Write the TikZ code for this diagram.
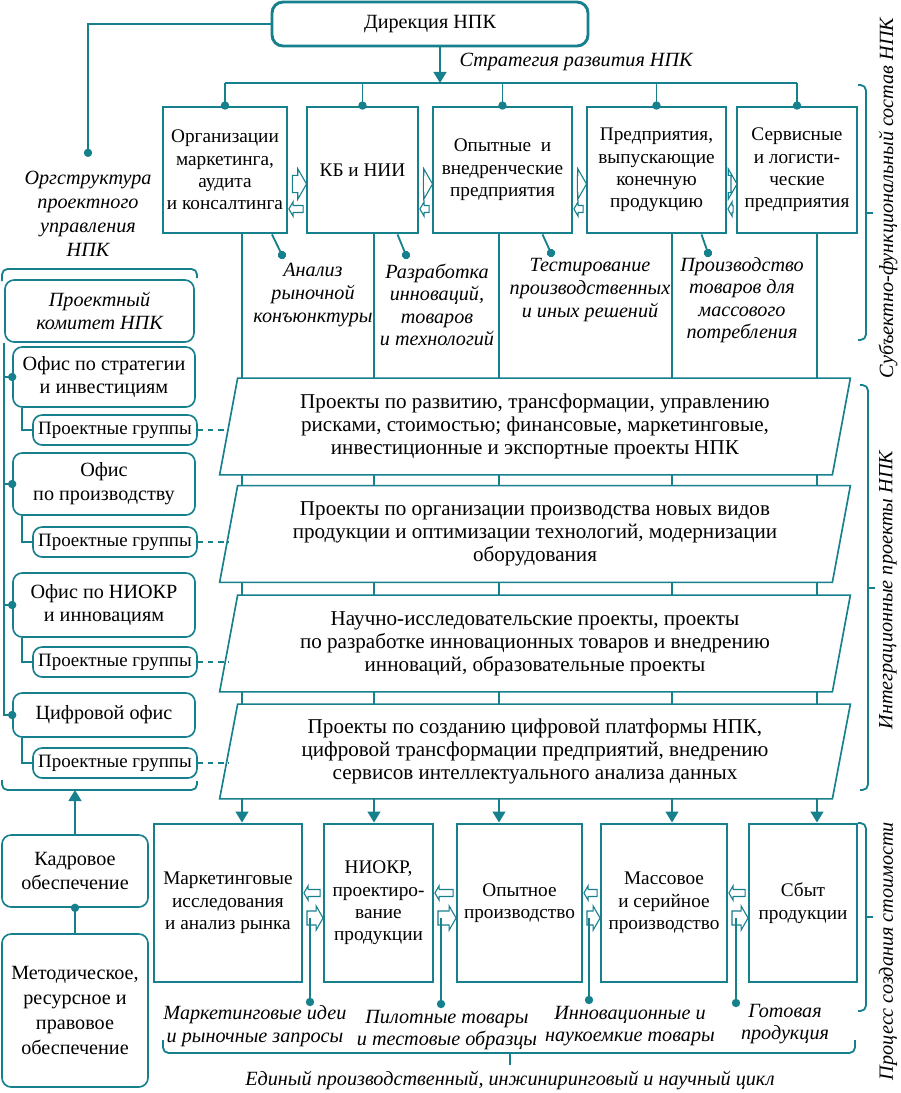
\documentclass[tikz,border=0pt]{standalone}
\usepackage{fontspec}
\setmainfont{Liberation Serif}
\usetikzlibrary{positioning, arrows.meta, backgrounds, calc, shapes.arrows}
\definecolor{npk}{RGB}{22,128,140}
\newdimen\px \px=0.545pt
\tikzset{
	conn/.style={draw=npk, line width=1pt},
	dotl/.style={conn, -{Circle[length=4.5pt]}, shorten >=-2.25pt},
	arr/.style={conn, -{Triangle[width=7pt,length=6pt]}},
	fwd/.style={single arrow, draw=npk, line width=0.6pt, fill=white, inner xsep=0pt, inner ysep=4.4pt, single arrow head extend=3.6pt, single arrow tip angle=120},
	fwdb/.style={fwd, inner ysep=3.5pt, single arrow head extend=2.7pt},
	bwd/.style={fwd, inner ysep=1.6pt, single arrow head extend=2.1pt, shape border rotate=180},
	unit/.style={draw=npk, line width=1.6pt, fill=white, align=center, inner sep=1pt, font=\fontsize{10.5}{12.2}\selectfont},
	head/.style={unit, rounded corners=6pt, font=\fontsize{11}{13}\selectfont},
	note/.style={align=center, inner sep=1pt, font=\fontsize{11}{12.3}\selectfont\itshape},
	proj/.style={align=center, inner sep=1pt, font=\fontsize{11.5}{12.6}\selectfont},
	frame/.style={draw=npk, line width=0.9pt, fill=white},
	cmt/.style={draw=npk, line width=0.9pt, fill=white, align=center, inner sep=1pt, rounded corners=5pt, font=\fontsize{11}{13}\selectfont\itshape},
	ofc/.style={cmt, font=\fontsize{11}{13}\selectfont},
	grp/.style={cmt, font=\fontsize{10.3}{12}\selectfont},
	sup/.style={cmt, font=\fontsize{11}{13.6}\selectfont},
	sz/.style 2 args={minimum width=#1\px, minimum height=#2\px},
}
\begin{document}
\begin{tikzpicture}[x=\px, y=-\px]
		\useasboundingbox (0,0) rectangle (901,1093);

		\node[head, sz={316}{44}] (dir) at (430,24) {Дирекция НПК};
		\node[note] (str) at (576,62) {Стратегия развития НПК};
		\node[note, font=\fontsize{11}{13}\selectfont\itshape] (ogs) at (88,214) {Оргструктура\\проектного\\управления\\НПК};

		\node[unit, sz={124}{126}] (mrk) at (225,170) {Организации\\маркетинга,\\аудита\\и консалтинга};
		\node[unit, sz={111}{126}] (kb) at (362.5,170) {КБ и НИИ};
		\node[unit, sz={139}{126}] (opt) at (502.5,170) {Опытные~ и\\внедренческие\\предприятия};
		\node[unit, sz={139}{126}] (prd) at (656.5,170) {Предприятия,\\выпускающие\\конечную\\продукцию};
		\node[unit, sz={120}{126}] (srv) at (797,170) {Сервисные\\и логисти-\\ческие\\предприятия};

		\node[note] (l1) at (313,295) {Анализ\\рыночной\\конъюнктуры};
		\node[note] (l2) at (437,305) {Разработка\\инноваций,\\товаров\\и технологий};
		\node[note] (l3) at (590,290) {Тестирование\\производственных\\и иных решений};
		\node[note] (l4) at (742,300) {Производство\\товаров для\\массового\\потребления};

		\node[proj, sz={630}{96}] (p1) at (535,426.5) {Проекты по развитию, трансформации, управлению\\рисками, стоимостью; финансовые, маркетинговые,\\инвестиционные и экспортные проекты НПК};
		\node[proj, sz={630}{96}] (p2) at (535,534) {Проекты по организации производства новых видов\\продукции и оптимизации технологий, модернизации\\оборудования};
		\node[proj, sz={630}{96}] (p3) at (535,643.5) {Научно-исследовательские проекты, проекты\\по разработке инновационных товаров и внедрению\\инноваций, образовательные проекты};
		\node[proj, sz={630}{94}] (p4) at (535,751.5) {Проекты по созданию цифровой платформы НПК,\\цифровой трансформации предприятий, внедрению\\сервисов интеллектуального анализа данных};

		\node[cmt, sz={189}{62}] (com) at (99.5,311) {Проектный\\комитет НПК};
		\node[ofc, sz={182}{60}] (o1) at (104,377) {Офис по стратегии\\и инвестициям};
		\node[grp, sz={164}{30}] (g1) at (115,430) {Проектные группы};
		\node[ofc, sz={182}{62}] (o2) at (104,484) {Офис\\по производству};
		\node[grp, sz={164}{30}] (g2) at (115,542) {Проектные группы};
		\node[ofc, sz={182}{64}] (o3) at (104,605) {Офис по НИОКР\\и инновациям};
		\node[grp, sz={164}{30}] (g3) at (115,662) {Проектные группы};
		\node[ofc, sz={182}{44}] (o4) at (104,715) {Цифровой офис};
		\node[grp, sz={164}{30}] (g4) at (115,763) {Проектные группы};

		\node[sup, sz={146}{72}] (kad) at (75,871) {Кадровое\\обеспечение};
		\node[sup, sz={146}{153}] (met) at (75,1010.5) {Методическое,\\ресурсное и\\правовое\\обеспечение};

		\node[unit, sz={148}{158}] (mkt) at (228,903) {Маркетинговые\\исследования\\и анализ рынка};
		\node[unit, sz={109}{158}] (rnd) at (378.5,903) {НИОКР,\\проектиро-\\вание\\продукции};
		\node[unit, sz={125}{158}] (pil) at (519.5,903) {Опытное\\производство};
		\node[unit, sz={126}{158}] (mas) at (664,903) {Массовое\\и серийное\\производство};
		\node[unit, sz={108}{158}] (snt) at (803,903) {Сбыт\\продукции};

		\node[note] (r1) at (255,1026) {Маркетинговые идеи\\и рыночные запросы};
		\node[note] (r2) at (447,1030) {Пилотные товары\\и тестовые образцы};
		\node[note] (r3) at (630,1026) {Инновационные и\\наукоемкие товары};
		\node[note] (r4) at (785,1024) {Готовая\\продукция};
		\node[note] (cyc) at (510,1080) {Единый производственный, инжиниринговый и научный цикл};

		\node[note, rotate=90] (sfs) at (888,198) {Субъектно-функциональный состав НПК};
		\node[note, rotate=90] (ipr) at (888,590) {Интеграционные проекты НПК};
		\node[note, rotate=90] (pcs) at (888,951) {Процесс создания стоимости};

		\coordinate (bus) at (0,83);
		\coordinate (c1) at (242,0);
		\coordinate (c2) at (374,0);
		\coordinate (c3) at (499,0);
		\coordinate (c4) at (672,0);
		\coordinate (c5) at (817,0);
		\begin{scope}[on background layer]
			\foreach \c/\t/\b in {c1/mrk/mkt, c2/kb/rnd, c3/opt/pil, c4/prd/mas, c5/srv/snt}
				\draw[arr] (\c |- \t.south) -- (\c |- \b.north);
			\foreach \p in {p1, p2, p3, p4}
				\draw[frame] ([xshift=18\px]\p.north west) -- (\p.north east) -- ([xshift=-18\px]\p.south east) -- (\p.south west) -- cycle;
		\end{scope}

		\draw[arr] ([xshift=10\px]dir.south) -- ([xshift=10\px]dir.south |- bus);
		\draw[conn] (mrk.north |- bus) -- (srv.north |- bus);
		\foreach \b in {mrk, kb, opt, prd, srv}
			\draw[dotl] (\b.north |- bus) -- (\b.north);
		\draw[dotl] (dir.west) -| ([yshift=9pt]ogs.north);

		\coordinate (tr) at (0,184);
		\coordinate (tl) at (0,209);
		\foreach \a/\b in {mrk/kb, kb/opt, opt/prd, prd/srv}
			\path let \p1=(\a.east), \p2=(\b.west) in
				node[fwd, minimum height=\x2-\x1-1.6pt] at ($(\a.east |- tr)!0.5!(\b.west |- tr)$) {}
				node[bwd, minimum height=\x2-\x1-1.6pt] at ($(\a.east |- tl)!0.5!(\b.west |- tl)$) {};

		\coordinate (d1) at (282,255);
		\coordinate (d2) at (406,255);
		\coordinate (d3) at (551,253);
		\coordinate (d4) at (708,253);
		\draw[dotl] ([xshift=47\px]mrk.south) -- (d1);
		\draw[dotl] ([xshift=35\px]kb.south) -- (d2);
		\draw[dotl] ([xshift=40\px]opt.south) -- (d3);
		\draw[dotl] ([xshift=45\px]prd.south) -- (d4);

		\draw[conn, rounded corners=3pt] (2,281) -- (2,269) -- (197,269) -- (197,278);
		\draw[conn, rounded corners=3pt] (2,780) -- (2,790) -- (197,790) -- (197,781);
		\coordinate (lpb) at (0,790);
		\foreach \o in {o1, o2, o3, o4}
			\draw[dotl] (com.south west) |- (\o.west);
		\foreach \o/\g/\p in {o1/g1/p1, o2/g2/p2, o3/g3/p3, o4/g4/p4}{
			\draw[conn] ([xshift=10\px]\o.south west) |- (\g.west);
			\coordinate (\p-l) at ([xshift=9\px]\p.west);
			\draw[conn, dash pattern=on 3pt off 2.5pt] (\g.east) -- (\g.east -| \p-l);
		}
		\draw[arr] (kad.north) -- (kad.north |- lpb);
		\draw[conn, {Circle[length=4.5pt]}-, shorten <=-2.25pt] (kad.south) -- (met.north);

		\coordinate (br) at (0,918);
		\coordinate (bl) at (0,893);
		\foreach \a/\b in {mkt/rnd, rnd/pil, pil/mas, mas/snt}
			\path let \p1=(\a.east), \p2=(\b.west) in
				node[fwdb, minimum height=\x2-\x1-1.6pt] at ($(\a.east |- br)!0.5!(\b.west |- br)$) {}
				node[bwd, minimum height=\x2-\x1-1.6pt] at ($(\a.east |- bl)!0.5!(\b.west |- bl)$) {};
		\coordinate (e1) at (310,1002);
		\coordinate (e2) at (441,1004);
		\coordinate (e3) at (589,1000);
		\coordinate (e4) at (736,1003);
		\foreach \e in {e1, e2, e3, e4}
			\draw[dotl] (\e |- br) -- (\e);

		\draw[conn, rounded corners=3pt] (858,85) -- (866,85) -- (866,340) -- (858,340);
		\draw[conn] (866,213) -- (873,213);
		\draw[conn, rounded corners=3pt] (860,385) -- (868,385) -- (868,790) -- (860,790);
		\draw[conn] (868,588) -- (875,588);
		\draw[conn, rounded corners=3pt] (858,823) -- (866,823) -- (866,1011) -- (858,1011);
		\draw[conn] (866,917) -- (873,917);
		\draw[conn, rounded corners=3pt] (163,1040) -- (163,1053) -- (855,1053) -- (855,1040);
		\draw[conn] (510,1053) -- (510,1065);
	\end{tikzpicture}
\end{document}
